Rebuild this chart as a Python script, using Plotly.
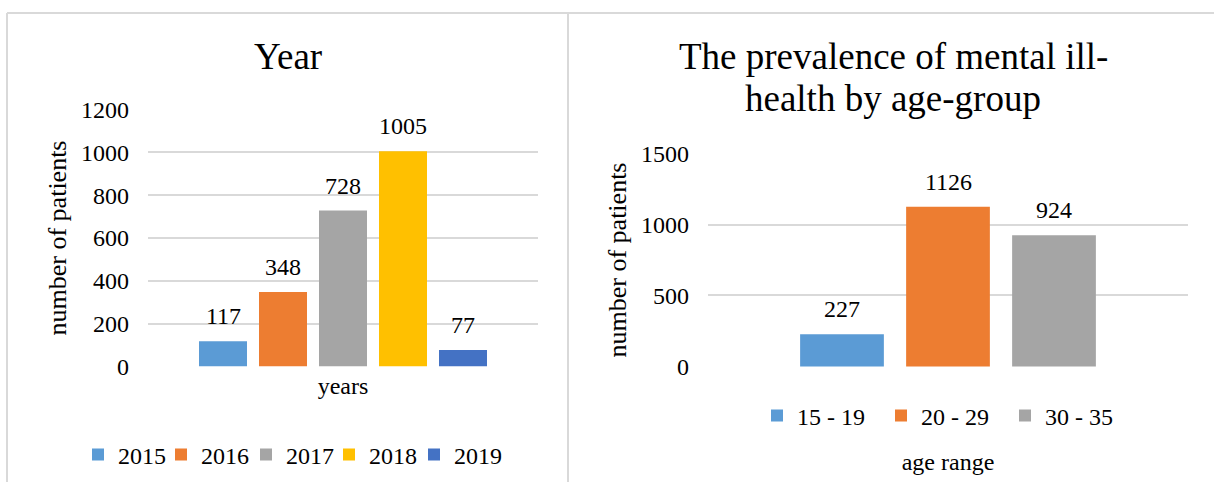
import plotly.graph_objects as go

# ---- data ----
years = ["2015", "2016", "2017", "2018", "2019"]
year_counts = [117, 348, 728, 1005, 77]
year_colors = ["#5B9BD5", "#ED7D31", "#A5A5A5", "#FFC000", "#4472C4"]

age_groups = ["15 - 19", "20 - 29", "30 - 35"]
age_counts = [227, 1126, 924]
age_colors = ["#5B9BD5", "#ED7D31", "#A5A5A5"]

left_ticks = [0, 200, 400, 600, 800, 1000, 1200]
right_ticks = [0, 500, 1000, 1500]

W, H = 1214, 482
FONT = "Liberation Serif"
GRID = "#D9D9D9"

def px(x):
    return x / W

def py(y):
    return (H - y) / H

fig = go.Figure()

for i, (yr, v, c) in enumerate(zip(years, year_counts, year_colors)):
    # alternate entries between two interleaved legend boxes so the tight
    # Excel-like spacing can be reproduced without clipping any label
    lg = "legend" if i % 2 == 0 else "legend3"
    fig.add_trace(go.Bar(x=[i], y=[v], name=yr, marker=dict(color=c, line=dict(width=0)),
                         width=0.8, xaxis="x", yaxis="y", legend=lg,
                         hoverinfo="skip"))
    fig.add_annotation(x=i, y=v, xref="x", yref="y", text=str(v), showarrow=False,
                       yanchor="bottom", yshift=10, font=dict(family=FONT, size=24, color="#000"))

for i, (ag, v, c) in enumerate(zip(age_groups, age_counts, age_colors)):
    fig.add_trace(go.Bar(x=[i], y=[v], name=ag, marker=dict(color=c, line=dict(width=0)),
                         width=0.79, xaxis="x2", yaxis="y2", legend="legend2",
                         hoverinfo="skip"))
    fig.add_annotation(x=i, y=v, xref="x2", yref="y2", text=str(v), showarrow=False,
                       yanchor="bottom", yshift=10, font=dict(family=FONT, size=24, color="#000"))

axis_font = dict(family=FONT, size=24, color="#000")
ytitle_font = dict(family=FONT, size=26, color="#000")
legend_font = dict(family=FONT, size=24, color="#000")

fig.update_layout(
    width=W, height=H,
    margin=dict(l=0, r=0, t=0, b=0, autoexpand=False),
    paper_bgcolor="white", plot_bgcolor="white",
    barmode="overlay",
    font=dict(family=FONT, size=24, color="#000"),
    xaxis=dict(domain=[px(148), px(538)], anchor="y", automargin=False,
               range=[-1.25, 5.25], showticklabels=False, showline=False, showgrid=False,
               zeroline=False, ticks="",
               title=dict(text="years", font=axis_font, standoff=10)),
    yaxis=dict(domain=[py(367), py(109)], anchor="x", range=[-3, 1203], automargin=False,
               tickvals=left_ticks, showgrid=True, gridcolor=GRID, gridwidth=1.5,
               zeroline=False, showline=False, ticks="", tickfont=axis_font,
               ticklabelstandoff=18,
               title=dict(text="number of patients", font=ytitle_font, standoff=6)),
    xaxis2=dict(domain=[px(708), px(1188)], anchor="y2", automargin=False,
                range=[-1.264, 3.264], showticklabels=False, showline=False, showgrid=False,
                zeroline=False, ticks="",
                title=dict(text="age range", font=axis_font, standoff=86)),
    yaxis2=dict(domain=[py(367), py(153)], anchor="x2", range=[-4, 1504], automargin=False,
                tickvals=right_ticks, showgrid=True, gridcolor=GRID, gridwidth=1.5,
                zeroline=False, showline=False, ticks="", tickfont=axis_font,
                ticklabelstandoff=18,
                title=dict(text="number of patients", font=ytitle_font, standoff=6)),
    legend=dict(orientation="h", x=px(78), y=py(455), xanchor="left", yanchor="middle",
                font=legend_font, bgcolor="rgba(0,0,0,0)", entrywidth=123, itemwidth=30),
    legend3=dict(orientation="h", x=px(161), y=py(455), xanchor="left", yanchor="middle",
                 font=legend_font, bgcolor="rgba(0,0,0,0)", entrywidth=123, itemwidth=30),
    legend2=dict(orientation="h", x=px(757), y=py(416), xanchor="left", yanchor="middle",
                 font=legend_font, bgcolor="rgba(0,0,0,0)", entrywidth=79, itemwidth=30),
    showlegend=True,
)

# chart titles
title_font = dict(family=FONT, size=37, color="#000")
fig.add_annotation(text="Year", xref="paper", yref="paper", x=px(288), y=py(56),
                   showarrow=False, xanchor="center", yanchor="middle", font=title_font)
fig.add_annotation(text="The prevalence of mental ill-", xref="paper", yref="paper",
                   x=px(893), y=py(56), showarrow=False, xanchor="center", yanchor="middle",
                   font=title_font)
fig.add_annotation(text="health by age-group", xref="paper", yref="paper",
                   x=px(893), y=py(98), showarrow=False, xanchor="center", yanchor="middle",
                   font=title_font)

# panel borders
border = dict(color=GRID, width=2)
fig.add_shape(type="line", xref="paper", yref="paper", x0=px(7), x1=1, y0=py(13), y1=py(13), line=border)
fig.add_shape(type="line", xref="paper", yref="paper", x0=px(7), x1=px(7), y0=py(13), y1=0, line=border)
fig.add_shape(type="line", xref="paper", yref="paper", x0=px(568), x1=px(568), y0=py(13), y1=0, line=border)

fig.write_html("out.html")
